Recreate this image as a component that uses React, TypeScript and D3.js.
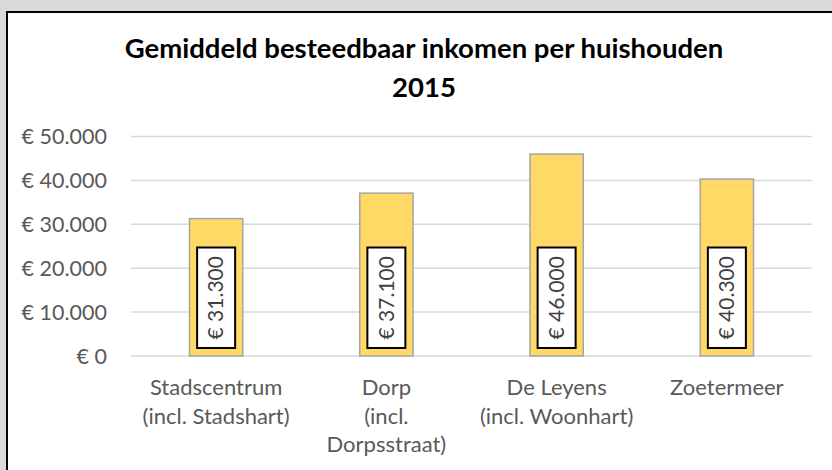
import React from "react";
import * as d3 from "d3";

const categories: string[][] = [
  ["Stadscentrum", "(incl. Stadshart)"],
  ["Dorp", "(incl.", "Dorpsstraat)"],
  ["De Leyens", "(incl. Woonhart)"],
  ["Zoetermeer"],
];
const values: number[] = [31300, 37100, 46000, 40300];
const yTicks: number[] = [0, 10000, 20000, 30000, 40000, 50000];
const titleLines: string[] = ["Gemiddeld besteedbaar inkomen per huishouden", "2015"];

const W = 832;
const H = 470;
const FONT = "Lato, 'Open Sans', sans-serif";

const nl = d3.formatLocale({
  decimal: ",",
  thousands: ".",
  grouping: [3],
  currency: ["€ ", ""],
});
const fmt = nl.format("$,.0f");

export default function App() {
  const keys = categories.map((c) => c.join(" "));
  const x = d3
    .scaleBand<string>()
    .domain(keys)
    .range([131, 812])
    .paddingInner(0.687)
    .paddingOuter(0.3435);
  const y = d3.scaleLinear().domain([0, 50000]).range([356, 136.5]);
  const bw = x.bandwidth();

  return (
    <div style={{ position: "fixed", left: 0, top: 0 }}>
      <svg width={W} height={H} style={{ display: "block" }}>
        <rect x={0} y={0} width={W} height={H} fill="#D9D9D9" />
        <rect x={7} y={12} width={900} height={600} fill="#FFFFFF" stroke="#000000" strokeWidth={2} />
        {titleLines.map((t, i) => (
          <text
            key={i}
            x={424}
            y={58 + i * 39}
            textAnchor="middle"
            fontFamily={FONT}
            fontWeight={700}
            fontSize={27.5}
            fill="#000000"
          >
            {t}
          </text>
        ))}
        {yTicks.map((t) => (
          <g key={t}>
            <line x1={131} x2={812} y1={y(t)} y2={y(t)} stroke="#D9D9D9" strokeWidth={1.5} />
            <text
              x={107}
              y={y(t)}
              dy="0.35em"
              textAnchor="end"
              fontFamily={FONT}
              fontSize={21.5}
              fill="#595959"
            >
              {fmt(t)}
            </text>
          </g>
        ))}
        {values.map((v, i) => {
          const x0 = x(keys[i]) as number;
          const cx = x0 + bw / 2;
          return (
            <g key={i}>
              <rect
                x={x0}
                y={y(v)}
                width={bw}
                height={y(0) - y(v)}
                fill="#FFD966"
                stroke="#A5A5A5"
                strokeWidth={1.5}
              />
              <rect x={cx - 19} y={247.5} width={38} height={100.5} fill="#FFFFFF" stroke="#000000" strokeWidth={2} />
              <text
                transform={`translate(${cx},${297.75}) rotate(-90)`}
                textAnchor="middle"
                dy="0.35em"
                fontFamily={FONT}
                fontSize={21}
                fill="#404040"
              >
                {fmt(v)}
              </text>
              {categories[i].map((line, j) => (
                <text
                  key={j}
                  x={cx}
                  y={395 + j * 28.5}
                  textAnchor="middle"
                  fontFamily={FONT}
                  fontSize={22}
                  fill="#595959"
                >
                  {line}
                </text>
              ))}
            </g>
          );
        })}
      </svg>
    </div>
  );
}
